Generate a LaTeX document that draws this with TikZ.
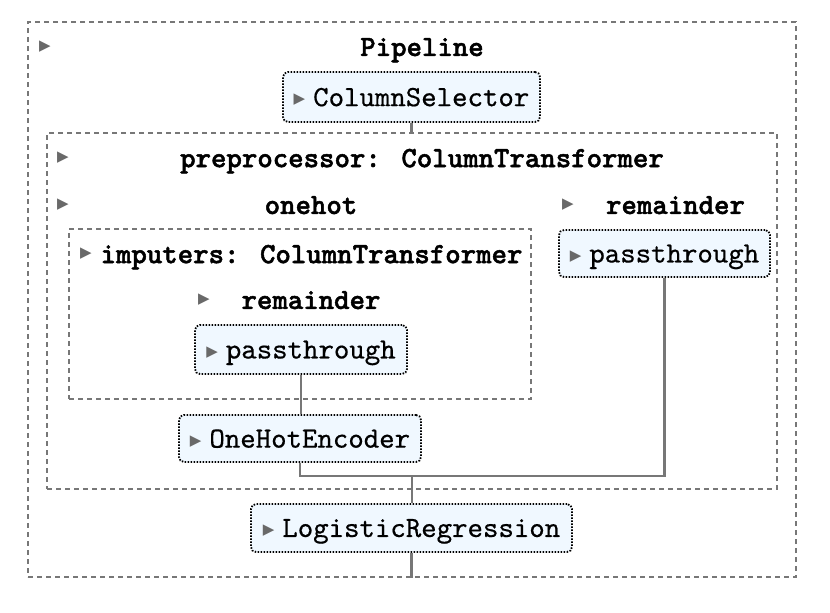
\documentclass[tikz,border=0pt]{standalone}
\usepackage{fontspec}
\newfontfamily\codefont{lmmono10-regular}[Extension=.otf, FakeBold=0.5, BoldFont=lmmonolt10-bold, BoldFeatures={FakeBold=1.6}]
\newfontfamily\symfont{DejaVu Sans}
\definecolor{boxfill}{RGB}{240,248,255}
\definecolor{linegray}{RGB}{119,119,119}
\definecolor{trigray}{RGB}{105,105,105}
\newcommand{\tri}{\raisebox{1.2pt}{\symfont\fontsize{7.5}{7.5}\selectfont\color{trigray}▶}}
\tikzset{
  container/.style={draw=linegray, line width=1pt, dash pattern=on 2.5pt off 2pt, inner sep=0pt},
  estbox/.style={draw=black, line width=0.9pt, dash pattern=on 0.75pt off 0.75pt, rounded corners=2.5pt,
    fill=boxfill, inner sep=0pt, text depth=0pt, font=\codefont\fontsize{14.7}{16}\selectfont},
  lbl/.style={inner sep=0pt, text depth=0pt, font=\codefont\bfseries\fontsize{14.7}{16}\selectfont},
  trimark/.style={inner sep=0pt, font=\symfont\fontsize{7.5}{7.5}\selectfont, text=trigray},
  conn/.style={draw=linegray, line width=1.1pt}
}
\begin{document}
\begin{tikzpicture}[x=0.5pt, y=-0.5pt]
  \useasboundingbox (0,0) rectangle (830,612);
  \node (pipe) [container, minimum width=384pt, minimum height=277.5pt] at (412,299.5) {};
  \node (pipetri) [trimark] at (45,47) {▶};
  \node (pipelbl) [lbl] at (422,47) {Pipeline};
  \node (cs) [estbox, minimum width=128.5pt, minimum height=25pt] at (411.5,97) {\tri\hspace{4pt}ColumnSelector};
  \node (pre) [container, minimum width=365pt, minimum height=178pt] at (412,311) {};
  \node (pretri) [trimark] at (63,158) {▶};
  \node (prelbl) [lbl] at (422,158) {preprocessor: ColumnTransformer};
  \node (ohtri) [trimark] at (63,205) {▶};
  \node (ohlbl) [lbl] at (311,205) {onehot};
  \node (remtri) [trimark] at (568,205) {▶};
  \node (remlbl) [lbl] at (675.5,205) {remainder};
  \node (imp) [container, minimum width=231pt, minimum height=85pt] at (300,314) {};
  \node (imptri) [trimark] at (86,254) {▶};
  \node (implbl) [lbl] at (311.5,254) {imputers: ColumnTransformer};
  \node (irtri) [trimark] at (204,300) {▶};
  \node (irlbl) [lbl] at (311,300) {remainder};
  \node (ipt) [estbox, minimum width=106pt, minimum height=24.5pt] at (301,349.5) {\tri\hspace{4pt}passthrough};
  \node (ohe) [estbox, minimum width=121pt, minimum height=23.5pt] at (300,438.5) {\tri\hspace{4pt}OneHotEncoder};
  \node (rpt) [estbox, minimum width=105.5pt, minimum height=23.5pt] at (664.5,253.5) {\tri\hspace{4pt}passthrough};
  \node (lr) [estbox, minimum width=160.5pt, minimum height=24pt] at (411.5,528) {\tri\hspace{4pt}LogisticRegression};
  \coordinate (join) at (412,476);
  \draw [conn](cs.south)--(cs.south |- pre.north);
  \draw [conn](ipt.south)--(ipt.south |- ohe.north);
  \draw [conn](ohe.south)|-(join);
  \draw [conn](rpt.south)|-(join);
  \draw [conn](join)--(join |- lr.north);
  \draw [conn](lr.south)--(lr.south |- pipe.south);
\end{tikzpicture}
\end{document}
